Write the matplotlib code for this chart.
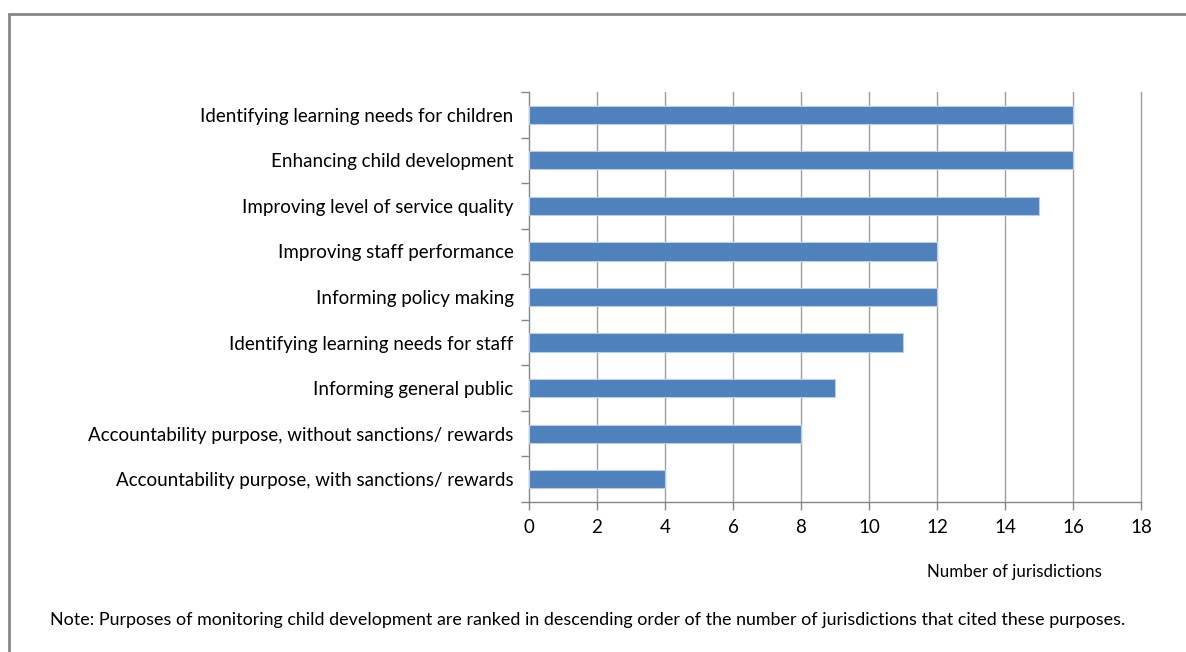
import matplotlib
matplotlib.use("Agg")
import matplotlib.pyplot as plt
from matplotlib.patches import Rectangle

purposes = [
    "Identifying learning needs for children",
    "Enhancing child development",
    "Improving level of service quality",
    "Improving staff performance",
    "Informing policy making",
    "Identifying learning needs for staff",
    "Informing general public",
    "Accountability purpose, without sanctions/ rewards",
    "Accountability purpose, with sanctions/ rewards",
]
jurisdictions = [16, 16, 15, 12, 12, 11, 9, 8, 4]
x_ticks = [0, 2, 4, 6, 8, 10, 12, 14, 16, 18]

plt.rcParams["font.family"] = ["Lato", "DejaVu Sans"]

W, H = 1186, 652
fig = plt.figure(figsize=(W / 100, H / 100), dpi=100)

# outer chart frame
fig.add_artist(Rectangle((9 / W, -0.01), 1.2, (H - 14) / H + 0.01,
                         transform=fig.transFigure, fill=False,
                         edgecolor="#878787", linewidth=2))

ax = fig.add_axes([529 / W, (H - 502) / H, (1141 - 529) / W, (502 - 92) / H])

n = len(purposes)
ypos = list(range(n))
ax.barh(ypos, jurisdictions, height=0.4, color="#4F81BD",
        edgecolor="#B9CDE5", linewidth=0.8, zorder=3)

ax.set_xlim(0, 18)
ax.set_ylim(n - 0.5, -0.5)
ax.set_xticks(x_ticks)
ax.set_xticklabels([str(t) for t in x_ticks], fontsize=13.5)
for t in x_ticks[1:]:
    ax.axvline(t, color="#A0A0A0", linewidth=1.0, zorder=0, clip_on=False)

ax.set_yticks(ypos)
ax.set_yticklabels(purposes, fontsize=13.5)
ax.tick_params(axis="y", length=0, pad=11)
ax.set_yticks([i - 0.5 for i in range(n + 1)], minor=True)
ax.tick_params(axis="y", which="minor", length=6, color="#878787", width=1)
ax.tick_params(axis="x", length=6, color="#878787", width=1, pad=6)

for side in ("top", "right"):
    ax.spines[side].set_visible(False)
for side in ("left", "bottom"):
    ax.spines[side].set_color("#878787")
    ax.spines[side].set_linewidth(1)

fig.text(1014 / W, 1 - 572 / H, "Number of jurisdictions", ha="center",
         va="center", fontsize=12.2)
fig.text(50 / W, 1 - 620 / H,
         "Note: Purposes of monitoring child development are ranked in descending "
         "order of the number of jurisdictions that cited these purposes.",
         ha="left", va="center", fontsize=12.9)

fig.savefig("out.png", dpi=100)
